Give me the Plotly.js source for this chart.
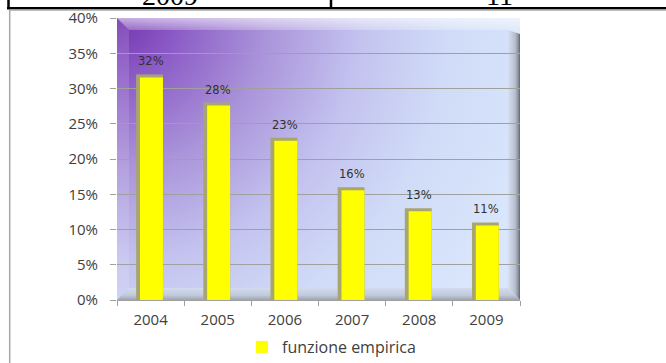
<!DOCTYPE html>
<html>
<head>
<meta charset="utf-8">
<script src="https://cdn.plot.ly/plotly-3.0.1.min.js"></script>
<style>html,body{margin:0;padding:0;background:#fff;}#chart{width:666px;height:363px;}</style>
</head>
<body>
<div id="chart"></div>
<script>
// Data
var years = ['2004', '2005', '2006', '2007', '2008', '2009'];
var values = [0.32, 0.28, 0.23, 0.16, 0.13, 0.11];
var valueLabels = ['32%', '28%', '23%', '16%', '13%', '11%'];
var seriesName = 'funzione empirica';
var tableCells = ['2009', '11'];

// plot area geometry (pixels) used to convert decorations to paper coords
var W = 666, H = 363, L = 117, R = 520, T = 18, B = 300;
function px(x) { return (x - L) / (R - L); }
function py(y) { return (B - y) / (B - T); }

var svg = "<svg xmlns='http://www.w3.org/2000/svg' width='403' height='282' viewBox='0 0 403 282' preserveAspectRatio='none'>" +
  "<defs>" +
  "<radialGradient id='g' gradientUnits='userSpaceOnUse' cx='0' cy='0' r='440'>" +
  "<stop offset='0' stop-color='#7434b0'/>" +
  "<stop offset='0.14' stop-color='#8c5cc6'/>" +
  "<stop offset='0.34' stop-color='#aa94da'/>" +
  "<stop offset='0.55' stop-color='#c3c2ef'/>" +
  "<stop offset='0.75' stop-color='#d0dbf7'/>" +
  "<stop offset='1' stop-color='#d9e6fb'/>" +
  "</radialGradient>" +
  "<linearGradient id='t' x1='0' y1='0' x2='0' y2='1'><stop offset='0' stop-color='#ffffff' stop-opacity='0.6'/><stop offset='1' stop-color='#ffffff' stop-opacity='0.12'/></linearGradient>" +
  "<linearGradient id='r' x1='0' y1='0' x2='1' y2='0'><stop offset='0' stop-color='#d6e0f2'/><stop offset='0.6' stop-color='#b6becf'/><stop offset='0.85' stop-color='#8a929e'/><stop offset='1' stop-color='#5e646c'/></linearGradient>" +
  "<linearGradient id='f' x1='0' y1='0' x2='0' y2='1'><stop offset='0' stop-color='#d2dcef'/><stop offset='0.6' stop-color='#c2cada'/><stop offset='1' stop-color='#9ca4b2'/></linearGradient>" +
  "</defs>" +
  "<rect width='403' height='282' fill='url(#g)'/>" +
  "<polygon points='0,0 12,12 12,270 0,282' fill='#ffffff' fill-opacity='0.12'/>" +
  "<polygon points='0,282 12,270 391,270 403,282' fill='url(#f)'/>" +
  "<polygon points='391,12 403,16 403,282 391,270' fill='url(#r)'/>" +
  "<polygon points='0,0 403,0 403,16 391,12 12,12' fill='url(#t)'/>" +
  "</svg>";
var bgUri = 'data:image/svg+xml;charset=utf-8,' + encodeURIComponent(svg);

var shift = 3 / (B - T) * 0.40; // 3px bevel for the bar face

var shadow = {
  type: 'bar', x: years, y: values, name: seriesName, showlegend: false,
  width: 0.4, offset: -0.215,
  marker: { color: '#a9a56e', line: { width: 0 } },
  hoverinfo: 'skip', yaxis: 'y'
};
var face = {
  type: 'bar', x: years, y: values, name: seriesName,
  width: 0.342, offset: -0.158,
  marker: { color: '#ffff00', line: { width: 0 } },
  yaxis: 'y2'
};

var annotations = years.map(function (yr, i) {
  return {
    x: i, y: values[i], xref: 'x', yref: 'y', text: valueLabels[i],
    showarrow: false, yanchor: 'bottom', yshift: 4,
    font: { family: 'DejaVu Sans', size: 11.5, color: '#303030' }
  };
});
annotations.push({
  x: px(170), y: py(12.5), xref: 'paper', yref: 'paper', text: tableCells[0],
  showarrow: false, xanchor: 'center', yanchor: 'bottom',
  font: { family: 'Liberation Serif', size: 28, color: '#000' }
});
annotations.push({
  x: px(499), y: py(12.5), xref: 'paper', yref: 'paper', text: tableCells[1],
  showarrow: false, xanchor: 'center', yanchor: 'bottom',
  font: { family: 'Liberation Serif', size: 28, color: '#000' }
});

var shapes = [
  { type: 'line', xref: 'paper', yref: 'paper', x0: px(7), x1: px(680), y0: py(8.2), y1: py(8.2), line: { color: '#000', width: 2.5 } },
  { type: 'line', xref: 'paper', yref: 'paper', x0: px(8.5), x1: px(8.5), y0: py(-5), y1: py(8.2), line: { color: '#000', width: 2.5 } },
  { type: 'line', xref: 'paper', yref: 'paper', x0: px(331), x1: px(331), y0: py(-5), y1: py(8.2), line: { color: '#000', width: 2.5 } },
  { type: 'line', xref: 'paper', yref: 'paper', x0: px(9.7), x1: px(680), y0: py(10), y1: py(10), line: { color: '#a6a6a6', width: 1.3 } },
  { type: 'line', xref: 'paper', yref: 'paper', x0: px(9.7), x1: px(9.7), y0: py(10), y1: py(370), line: { color: '#a6a6a6', width: 1.5 } }
];

var layout = {
  width: W, height: H,
  margin: { l: L, r: W - R, t: T, b: H - B, pad: 0, autoexpand: false },
  paper_bgcolor: '#ffffff',
  plot_bgcolor: 'rgba(0,0,0,0)',
  barmode: 'overlay',
  showlegend: true,
  legend: {
    orientation: 'h', x: px(242), xanchor: 'left', y: py(347), yanchor: 'middle',
    font: { family: 'Open Sans', size: 16, color: '#404040' },
    bgcolor: 'rgba(0,0,0,0)'
  },
  xaxis: {
    type: 'category', range: [-0.5, years.length - 0.5], tickson: 'boundaries', ticks: 'outside', ticklen: 5,
    tickcolor: '#a0a0a0', showline: true, linecolor: '#a0a0a0', linewidth: 1,
    showgrid: false, zeroline: false, ticklabelstandoff: 6, automargin: false,
    tickfont: { family: 'Open Sans', size: 15, color: '#404040' }
  },
  yaxis: {
    range: [0, 0.40], dtick: 0.05, tickformat: '.0%', ticks: 'outside', ticklen: 6,
    tickcolor: '#a0a0a0', gridcolor: '#a0a0a0', gridwidth: 1, showline: false,
    zeroline: false, ticklabelstandoff: 9, automargin: false,
    tickfont: { family: 'Open Sans', size: 15, color: '#404040' }
  },
  yaxis2: {
    overlaying: 'y', range: [shift, 0.40 + shift], visible: false, showgrid: false, zeroline: false
  },
  images: [{
    source: bgUri, xref: 'paper', yref: 'paper', x: 0, y: 1, sizex: 1, sizey: 1,
    xanchor: 'left', yanchor: 'top', sizing: 'stretch', layer: 'below'
  }],
  annotations: annotations,
  shapes: shapes
};

Plotly.newPlot('chart', [shadow, face], layout, { displayModeBar: false, staticPlot: true });
</script>
</body>
</html>
